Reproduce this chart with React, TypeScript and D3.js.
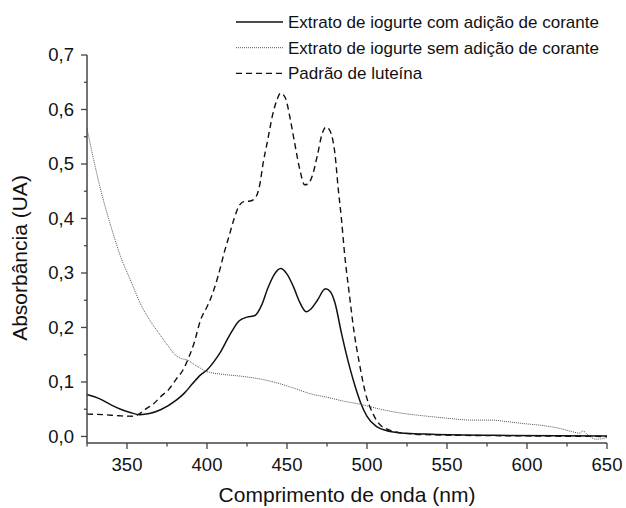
// Espectro de absorção UV-Vis: extratos de iogurte vs. padrão de luteína
import * as d3 from "d3";

const W = 626;
const H = 508;
const M = { top: 55, right: 19, bottom: 65, left: 87 };

const xTicks = [350, 400, 450, 500, 550, 600, 650];
const xMinor = [325, 375, 425, 475, 525, 575, 625];
const yTicks = [0, 0.1, 0.2, 0.3, 0.4, 0.5, 0.6, 0.7];
const yMinor = [0.05, 0.15, 0.25, 0.35, 0.45, 0.55, 0.65];

// Extrato de iogurte com adição de corante
const comNm = [325, 333, 340, 346, 352, 358, 364, 371, 381, 386, 391, 396, 400, 404, 408, 414, 420, 425, 430, 434, 438, 442, 446, 450, 454, 458, 462, 465, 469, 474, 477, 480, 484, 487, 490, 493, 496, 500, 506, 512, 520, 540, 580, 650];
const comAbs = [0.077, 0.069, 0.058, 0.05, 0.044, 0.04, 0.042, 0.049, 0.067, 0.08, 0.097, 0.113, 0.122, 0.136, 0.153, 0.185, 0.212, 0.219, 0.222, 0.24, 0.272, 0.297, 0.308, 0.298, 0.275, 0.246, 0.229, 0.234, 0.25, 0.271, 0.266, 0.245, 0.19, 0.152, 0.118, 0.088, 0.062, 0.037, 0.018, 0.011, 0.007, 0.004, 0.002, 0.001];

// Extrato de iogurte sem adição de corante
const semNm = [325, 329, 333, 337, 340, 346, 352, 359, 365, 371, 376, 380, 384, 388, 392, 396, 400, 410, 423, 434, 444, 455, 465, 475, 485, 496, 500, 510, 521, 535, 552, 565, 578, 588, 600, 610, 620, 628, 633, 635, 638, 643, 647, 650];
const semAbs = [0.565, 0.51, 0.459, 0.415, 0.385, 0.33, 0.288, 0.24, 0.21, 0.185, 0.165, 0.15, 0.143, 0.14, 0.132, 0.125, 0.119, 0.114, 0.11, 0.105, 0.098, 0.088, 0.078, 0.072, 0.065, 0.059, 0.056, 0.049, 0.043, 0.038, 0.033, 0.03, 0.03, 0.027, 0.023, 0.02, 0.015, 0.009, 0.006, 0.01, 0.003, -0.005, -0.004, -0.002];

// Padrão de luteína
const lutNm = [325, 335, 345, 354, 358, 362, 367, 371, 376, 381, 385, 389, 392, 396, 400, 402, 407, 411, 414, 417, 420, 423, 427, 430, 433, 435, 438, 441, 444, 446, 449, 452, 455, 458, 461, 463, 466, 469, 472, 474.5, 477, 480, 482, 484, 486, 489, 492, 495, 499, 504, 508, 513, 520, 540, 600, 650];
const lutAbs = [0.041, 0.04, 0.038, 0.037, 0.042, 0.051, 0.061, 0.073, 0.086, 0.106, 0.122, 0.148, 0.172, 0.214, 0.238, 0.251, 0.295, 0.34, 0.37, 0.4, 0.423, 0.431, 0.432, 0.437, 0.462, 0.5, 0.545, 0.59, 0.62, 0.63, 0.621, 0.583, 0.535, 0.49, 0.462, 0.463, 0.48, 0.516, 0.556, 0.568, 0.56, 0.518, 0.455, 0.4, 0.335, 0.26, 0.19, 0.138, 0.08, 0.04, 0.022, 0.013, 0.007, 0.003, 0.001, 0.0];

const legendLabels = [
  "Extrato de iogurte com adição de corante",
  "Extrato de iogurte sem adição de corante",
  "Padrão de luteína",
];

const FONT = "'Liberation Sans', Arial, sans-serif";

export default function App() {
  const x = d3.scaleLinear().domain([325, 650]).range([M.left, W - M.right]);
  const y = d3.scaleLinear().domain([-0.012, 0.7]).range([H - M.bottom, M.top]);

  const line = d3
    .line<[number, number]>()
    .x((d) => x(d[0]))
    .y((d) => y(d[1]))
    .curve(d3.curveMonotoneX);

  const com = comNm.map((n, i) => [n, comAbs[i]] as [number, number]);
  const sem = semNm.map((n, i) => [n, semAbs[i]] as [number, number]);
  const lut = lutNm.map((n, i) => [n, lutAbs[i]] as [number, number]);

  const series = [
    { d: com, stroke: "#111", width: 1.5, dash: undefined as string | undefined },
    { d: sem, stroke: "#555", width: 1, dash: "1 1" },
    { d: lut, stroke: "#111", width: 1.4, dash: "6 4" },
  ];

  const x0 = M.left;
  const yBase = H - M.bottom;
  const fmt = (v: number) => d3.format(".1f")(v).replace(".", ",");

  return (
    <svg
      width={W}
      height={H}
      style={{ position: "absolute", left: 0, top: 0, background: "#fff" }}
      fontFamily={FONT}
    >
      {series.map((s, i) => (
        <path
          key={i}
          d={line(s.d) || ""}
          fill="none"
          stroke={s.stroke}
          strokeWidth={s.width}
          strokeDasharray={s.dash}
        />
      ))}

      {/* axes */}
      <line x1={x0} x2={x0} y1={y(0.7)} y2={yBase} stroke="#444" strokeWidth={1.5} />
      <line x1={x0} x2={x(650)} y1={yBase} y2={yBase} stroke="#444" strokeWidth={1.5} />

      {yTicks.map((t) => (
        <g key={"y" + t}>
          <line x1={x0 - 6} x2={x0} y1={y(t)} y2={y(t)} stroke="#444" strokeWidth={1.3} />
          <text x={x0 - 13} y={y(t)} dy="0.35em" textAnchor="end" fontSize={18.5} fill="#111">
            {fmt(t)}
          </text>
        </g>
      ))}
      {yMinor.map((t) => (
        <line key={"ym" + t} x1={x0 - 3} x2={x0} y1={y(t)} y2={y(t)} stroke="#444" strokeWidth={1.3} />
      ))}

      {xTicks.map((t) => (
        <g key={"x" + t}>
          <line x1={x(t)} x2={x(t)} y1={yBase} y2={yBase + 6} stroke="#444" strokeWidth={1.3} />
          <text x={x(t)} y={yBase + 27.5} textAnchor="middle" fontSize={18.5} fill="#111">
            {t}
          </text>
        </g>
      ))}
      {xMinor.map((t) => (
        <line key={"xm" + t} x1={x(t)} x2={x(t)} y1={yBase} y2={yBase + 3.5} stroke="#444" strokeWidth={1.3} />
      ))}

      <text
        x={(x(325) + x(650)) / 2}
        y={502}
        textAnchor="middle"
        fontSize={21}
        fill="#111"
      >
        Comprimento de onda (nm)
      </text>
      <text
        transform={`translate(27,258) rotate(-90)`}
        textAnchor="middle"
        fontSize={21}
        fill="#111"
      >
        Absorbância (UA)
      </text>

      {/* legend */}
      {legendLabels.map((lab, i) => {
        const cy = 22 + i * 25.7;
        const s = series[i];
        return (
          <g key={lab}>
            <line
              x1={236}
              x2={283}
              y1={cy}
              y2={cy}
              stroke={s.stroke}
              strokeWidth={s.width}
              strokeDasharray={s.dash}
            />
            <text x={288} y={cy} dy="0.35em" fontSize={17} fill="#111">
              {lab}
            </text>
          </g>
        );
      })}
    </svg>
  );
}
